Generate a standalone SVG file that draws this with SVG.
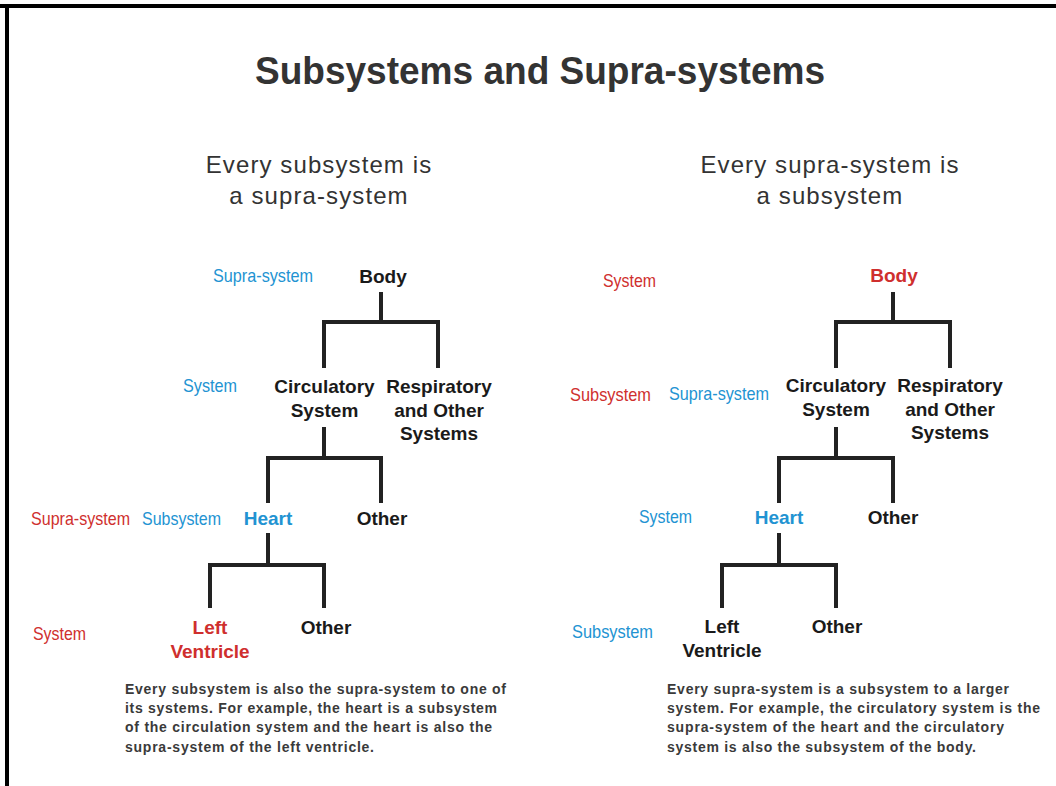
<svg xmlns="http://www.w3.org/2000/svg" width="1056" height="786" viewBox="0 0 1056 786">
<style>
.title{font-family:"Liberation Sans",Arial,sans-serif;font-weight:bold;font-size:38px;fill:#333;text-anchor:middle}
.sub{font-family:"Liberation Sans",Arial,sans-serif;font-size:24px;fill:#333;text-anchor:middle;letter-spacing:1.1px}
.node{font-family:"Liberation Sans",Arial,sans-serif;font-weight:bold;font-size:19px;fill:#1a1a1a;text-anchor:middle}
.lab{font-family:"Liberation Sans",Arial,sans-serif;font-size:19px}
.para{font-family:"Liberation Sans",Arial,sans-serif;font-weight:bold;font-size:14px;fill:#3a3a3a}
.blue{fill:#2293d2}
.red{fill:#cf2f2e}
.conn path{fill:none;stroke:#222;stroke-width:4;stroke-linejoin:miter;stroke-linecap:butt}
</style>
<rect x="0" y="0" width="1056" height="786" fill="#fff"/>
<g id="frame">
<rect x="0" y="4" width="1056" height="4" fill="#000"/>
<rect x="5" y="4" width="4" height="782" fill="#000"/>
</g>
<text class="title" x="540" y="84" textLength="570" lengthAdjust="spacingAndGlyphs">Subsystems and Supra-systems</text>
<g id="subtitle-left">
<text class="sub" x="319" y="173">Every subsystem is</text>
<text class="sub" x="319" y="204">a supra-system</text>
</g>
<g id="subtitle-right">
<text class="sub" x="830" y="173">Every supra-system is</text>
<text class="sub" x="830" y="204">a subsystem</text>
</g>
<g class="conn" id="connectors">
<path d="M381,292 V322 M324,368 V322 H438 V368"/>
<path d="M324,427 V458 M268,503 V458 H381 V503"/>
<path d="M268,533 V565 M210,608 V565 H324 V608"/>
<path d="M893,292 V322 M836,368 V322 H950 V368"/>
<path d="M836,427 V458 M779,503 V458 H893 V503"/>
<path d="M779,533 V565 M722,608 V565 H836 V608"/>
</g>
<g id="left-body"><text class="node" x="383" y="283">Body</text></g>
<g id="left-circulatory"><text class="node" x="324.5" y="393">Circulatory</text><text class="node" x="324.5" y="417">System</text></g>
<g id="left-respiratory"><text class="node" x="439" y="393">Respiratory</text><text class="node" x="439" y="417">and Other</text><text class="node" x="439" y="440">Systems</text></g>
<g id="left-heart"><text class="node blue" x="268" y="525">Heart</text></g>
<g id="left-other1"><text class="node" x="382" y="525">Other</text></g>
<g id="left-ventricle"><text class="node red" x="210" y="634">Left</text><text class="node red" x="210" y="658">Ventricle</text></g>
<g id="left-other2"><text class="node" x="326" y="634">Other</text></g>
<g id="right-body"><text class="node red" x="894" y="282">Body</text></g>
<g id="right-circulatory"><text class="node" x="836" y="392">Circulatory</text><text class="node" x="836" y="416">System</text></g>
<g id="right-respiratory"><text class="node" x="950" y="392">Respiratory</text><text class="node" x="950" y="416">and Other</text><text class="node" x="950" y="439">Systems</text></g>
<g id="right-heart"><text class="node blue" x="779" y="524">Heart</text></g>
<g id="right-other1"><text class="node" x="893" y="524">Other</text></g>
<g id="right-ventricle"><text class="node" x="722" y="633">Left</text><text class="node" x="722" y="657">Ventricle</text></g>
<g id="right-other2"><text class="node" x="837" y="633">Other</text></g>
<g id="labels-left">
<text class="lab blue" x="213" y="282" textLength="100" lengthAdjust="spacingAndGlyphs">Supra-system</text>
<text class="lab blue" x="183" y="392" textLength="54" lengthAdjust="spacingAndGlyphs">System</text>
<text class="lab red" x="31" y="525" textLength="99" lengthAdjust="spacingAndGlyphs">Supra-system</text>
<text class="lab blue" x="142" y="525" textLength="79" lengthAdjust="spacingAndGlyphs">Subsystem</text>
<text class="lab red" x="33" y="640" textLength="53" lengthAdjust="spacingAndGlyphs">System</text>
</g>
<g id="labels-right">
<text class="lab red" x="603" y="287" textLength="53" lengthAdjust="spacingAndGlyphs">System</text>
<text class="lab red" x="570" y="401" textLength="81" lengthAdjust="spacingAndGlyphs">Subsystem</text>
<text class="lab blue" x="669" y="400" textLength="100" lengthAdjust="spacingAndGlyphs">Supra-system</text>
<text class="lab blue" x="639" y="523" textLength="53" lengthAdjust="spacingAndGlyphs">System</text>
<text class="lab blue" x="572" y="638" textLength="81" lengthAdjust="spacingAndGlyphs">Subsystem</text>
</g>
<g id="para-left">
<text class="para" x="125" y="694" textLength="381" lengthAdjust="spacing">Every subsystem is also the supra-system to one of</text>
<text class="para" x="125" y="713" textLength="372" lengthAdjust="spacing">its systems. For example, the heart is a subsystem</text>
<text class="para" x="125" y="732" textLength="367" lengthAdjust="spacing">of the circulation system and the heart is also the</text>
<text class="para" x="125" y="752" textLength="249" lengthAdjust="spacing">supra-system of the left ventricle.</text>
</g>
<g id="para-right">
<text class="para" x="667" y="694" textLength="342" lengthAdjust="spacing">Every supra-system is a subsystem to a larger</text>
<text class="para" x="667" y="713" textLength="373" lengthAdjust="spacing">system. For example, the circulatory system is the</text>
<text class="para" x="667" y="732" textLength="337" lengthAdjust="spacing">supra-system of the heart and the circulatory</text>
<text class="para" x="667" y="752" textLength="309" lengthAdjust="spacing">system is also the subsystem of the body.</text>
</g>
</svg>
